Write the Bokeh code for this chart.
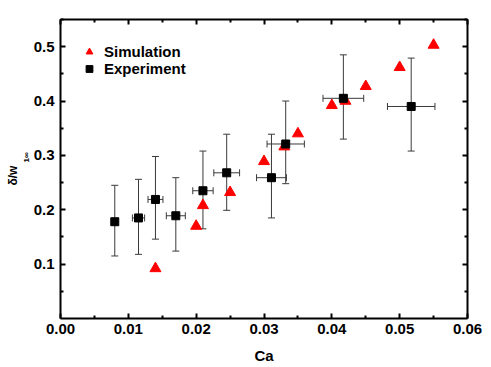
from bokeh.plotting import figure
from bokeh.models import (ColumnDataSource, Whisker, TeeHead, LinearAxis, FixedTicker,
                          Range1d, Legend, LegendItem, Title, CustomJSTickFormatter)
from bokeh.embed import file_html
from bokeh.resources import INLINE

# ---- data ----
sim_ca = [0.014, 0.020, 0.021, 0.025, 0.030, 0.033, 0.035, 0.040, 0.042, 0.045, 0.050, 0.055]
sim_d = [0.092, 0.170, 0.208, 0.232, 0.289, 0.316, 0.340, 0.392, 0.400, 0.427, 0.462, 0.503]

exp_ca = [0.0080, 0.0115, 0.0140, 0.0170, 0.0210, 0.0245, 0.0311, 0.0332, 0.0417, 0.0517]
exp_d = [0.178, 0.185, 0.219, 0.189, 0.235, 0.268, 0.259, 0.321, 0.405, 0.390]
exp_d_lo = [0.115, 0.118, 0.146, 0.124, 0.165, 0.199, 0.185, 0.248, 0.330, 0.308]
exp_d_hi = [0.245, 0.256, 0.298, 0.259, 0.308, 0.339, 0.339, 0.400, 0.485, 0.479]
exp_ca_err = [0.0, 0.0009, 0.0011, 0.0014, 0.0015, 0.0019, 0.0022, 0.00275, 0.0030, 0.0035]

x_ticks = [0.00, 0.01, 0.02, 0.03, 0.04, 0.05, 0.06]
x_minor = [0.005, 0.015, 0.025, 0.035, 0.045, 0.055]
y_ticks = [0.1, 0.2, 0.3, 0.4, 0.5]
y_minor = [0.05, 0.15, 0.25, 0.35, 0.45, 0.55]

FONT = "Liberation Sans"

p = figure(frame_width=407, frame_height=299, output_backend="svg", toolbar_location=None,
           x_range=Range1d(0.0, 0.06), y_range=Range1d(0.0, 0.55),
           min_border_left=60, min_border_right=24, min_border_top=19, min_border_bottom=49,
           x_axis_location=None, y_axis_location=None)
p.xgrid.visible = False
p.ygrid.visible = False
p.outline_line_color = None
p.background_fill_color = "white"
p.border_fill_color = "white"


def style_axis(ax, ticks, minor, labels=True):
    ax.ticker = FixedTicker(ticks=ticks, minor_ticks=minor)
    ax.axis_line_width = 2
    ax.axis_line_color = "black"
    ax.major_tick_line_width = 2
    ax.minor_tick_line_width = 2
    ax.major_tick_line_color = "black"
    ax.minor_tick_line_color = "black"
    ax.major_tick_in = 5
    ax.major_tick_out = 0
    ax.minor_tick_in = 3
    ax.minor_tick_out = 0
    ax.major_label_text_font = FONT
    ax.major_label_text_font_style = "bold"
    ax.major_label_text_font_size = "15px"
    ax.major_label_text_color = "black"
    ax.axis_label_text_font = FONT
    ax.axis_label_text_font_style = "bold"
    ax.axis_label_text_font_size = "15px"
    ax.axis_label_text_color = "black"
    if not labels:
        ax.formatter = CustomJSTickFormatter(code="return ''")
        ax.major_label_standoff = 0


xb = LinearAxis()
style_axis(xb, x_ticks, x_minor)
xb.major_label_overrides = {t: f"{t:.2f}" for t in x_ticks}
xb.major_label_standoff = 5
xb.axis_label = "Ca"
xb.axis_label_standoff = 10
p.add_layout(xb, "below")

yl = LinearAxis()
style_axis(yl, y_ticks, y_minor)
yl.major_label_overrides = {t: f"{t:.1f}" for t in y_ticks}
yl.major_label_standoff = 6
p.add_layout(yl, "left")

# invisible spacer between tick labels and the y label
spacer = LinearAxis(ticker=FixedTicker(ticks=[0.3]),
                    formatter=CustomJSTickFormatter(code="return ''"),
                    major_label_standoff=10, axis_line_color=None,
                    major_tick_line_color=None, minor_tick_line_color=None,
                    major_tick_in=0, major_tick_out=0, minor_tick_in=0, minor_tick_out=0)
p.add_layout(spacer, "left")

# y axis label "δ/w" with subscript "1∞"
p.add_layout(Title(text="1∞", align="left", offset=156, standoff=0,
                   vertical_align="bottom", text_font=FONT, text_font_style="bold",
                   text_font_size="8px", text_color="black"), "left")
p.add_layout(Title(text="δ/w", align="left", offset=133, standoff=0,
                   vertical_align="bottom", text_font=FONT, text_font_style="bold",
                   text_font_size="12px", text_color="black"), "left")

xt = LinearAxis()
style_axis(xt, x_ticks, x_minor, labels=False)
p.add_layout(xt, "above")

yr = LinearAxis()
style_axis(yr, y_ticks, y_minor, labels=False)
p.add_layout(yr, "right")

# error bars
err_color = "#3a3a3a"
src_v = ColumnDataSource(dict(x=exp_ca, lo=exp_d_lo, hi=exp_d_hi))
p.add_layout(Whisker(source=src_v, base="x", lower="lo", upper="hi", dimension="height",
                     line_color=err_color, line_width=1,
                     upper_head=TeeHead(size=7, line_color=err_color, line_width=1),
                     lower_head=TeeHead(size=7, line_color=err_color, line_width=1)))

hx = [c for c, e in zip(exp_ca, exp_ca_err) if e > 0]
hy = [d for d, e in zip(exp_d, exp_ca_err) if e > 0]
he = [e for e in exp_ca_err if e > 0]
src_h = ColumnDataSource(dict(y=hy, lo=[c - e for c, e in zip(hx, he)],
                              hi=[c + e for c, e in zip(hx, he)]))
p.add_layout(Whisker(source=src_h, base="y", lower="lo", upper="hi", dimension="width",
                     line_color=err_color, line_width=1,
                     upper_head=TeeHead(size=7, line_color=err_color, line_width=1),
                     lower_head=TeeHead(size=7, line_color=err_color, line_width=1)))

r_sim = p.scatter(sim_ca, sim_d, marker="triangle", size=11, fill_color="#ff0000",
                  line_color="#ff0000")
r_exp = p.scatter(exp_ca, exp_d, marker="square", size=8, fill_color="black",
                  line_color="black")

legend = Legend(items=[LegendItem(label="Simulation", renderers=[r_sim]),
                       LegendItem(label="Experiment", renderers=[r_exp])],
                location=(19, 241), orientation="vertical",
                label_text_font=FONT, label_text_font_style="bold",
                label_text_font_size="15px", label_text_color="black",
                glyph_width=20, glyph_height=17, label_height=17, label_standoff=5,
                spacing=0, padding=0, margin=0,
                border_line_color=None, background_fill_alpha=0)
p.add_layout(legend)

open("out.html", "w").write(file_html(p, INLINE))
